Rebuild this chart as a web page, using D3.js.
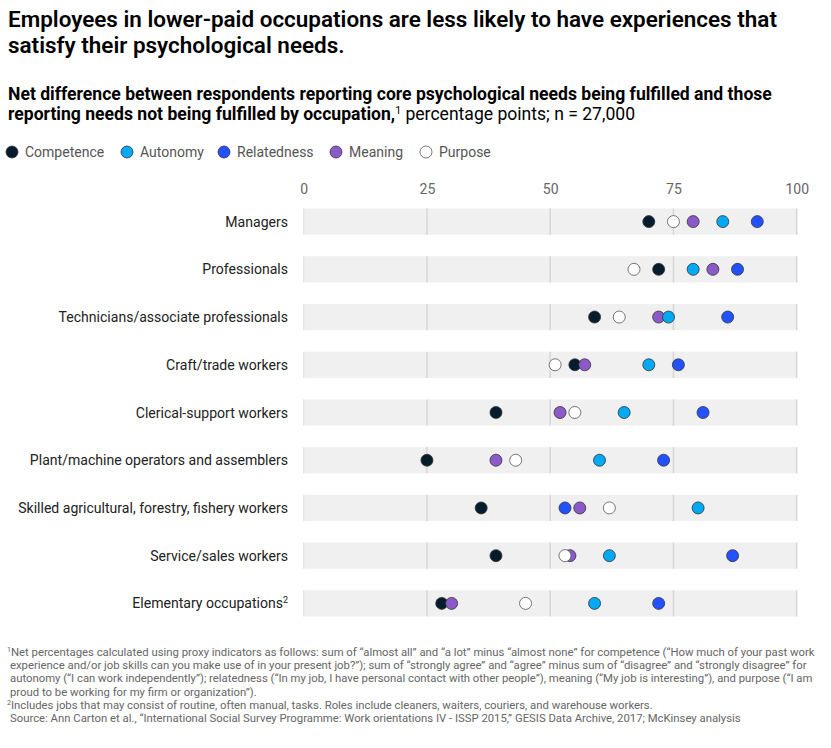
<!DOCTYPE html>
<html><head><meta charset="utf-8">
<script src="https://cdn.jsdelivr.net/npm/d3@7"></script>
<style>
html,body{margin:0;padding:0;background:#fff;}
svg{display:block;font-family:Roboto,"Noto Sans",Arial,sans-serif;}
</style></head>
<body>
<svg id="chart" width="831" height="748"></svg>
<script>
const categories = ["Managers","Professionals","Technicians/associate professionals","Craft/trade workers","Clerical-support workers","Plant/machine operators and assemblers","Skilled agricultural, forestry, fishery workers","Service/sales workers","Elementary occupations"];
const categorySup = ["","","","","","","","","2"];
const seriesNames = ["Competence","Autonomy","Relatedness","Meaning","Purpose"];
const competence  = [70,72,59,55,39,25,36,39,28];
const autonomy    = [85,79,74,70,65,60,80,62,59];
const relatedness = [92,88,86,76,81,73,53,87,72];
const meaning     = [79,83,72,57,52,39,56,54,30];
const purpose     = [75,67,64,51,55,43,62,53,45];
const tickValues  = [0,25,50,75,100];
const colors = {Competence:"#051c2c",Autonomy:"#00a9f4",Relatedness:"#2251ff",Meaning:"#8c5ac8",Purpose:"#ffffff"};
const drawOrder = ["Competence","Relatedness","Meaning","Autonomy","Purpose"];
const seriesData = {Competence:competence,Autonomy:autonomy,Relatedness:relatedness,Meaning:meaning,Purpose:purpose};

const svg = d3.select("#chart");

function fit(sel, target){
  const n = sel.node();
  const w = n.getComputedTextLength();
  const fs = parseFloat(sel.attr("font-size"));
  if (w>0) sel.attr("font-size", (fs*target/w).toFixed(2));
}

// Title
const title = ["Employees in lower-paid occupations are less likely to have experiences that","satisfy their psychological needs."];
const t1 = svg.append("text").attr("x",8).attr("y",27).attr("font-size",21).attr("font-weight",600).attr("fill","#000").text(title[0]);
fit(t1, 769);
const tfs = t1.attr("font-size");
svg.append("text").attr("x",8).attr("y",53).attr("font-size",tfs).attr("font-weight",600).attr("fill","#000").text(title[1]);

// Subtitle
const s1 = svg.append("text").attr("x",8).attr("y",100).attr("font-size",16).attr("font-weight",700).attr("fill","#000")
  .text("Net difference between respondents reporting core psychological needs being fulfilled and those");
fit(s1, 764);
const sfs = +s1.attr("font-size");
const s2 = svg.append("text").attr("x",8).attr("y",120).attr("font-size",sfs).attr("fill","#000");
s2.append("tspan").attr("font-weight",700).text("reporting needs not being fulfilled by occupation,");
s2.append("tspan").attr("font-size",sfs*0.6).attr("dy",-6).text("1");
s2.append("tspan").attr("dy",6).attr("font-weight",400).text(" percentage points; n = 27,000");

// Legend
const legendX = [12,127,224,336,426];
const lg = svg.append("g");
seriesNames.forEach((s,i)=>{
  lg.append("circle").attr("cx",legendX[i]).attr("cy",152).attr("r",6)
    .attr("fill",colors[s]).attr("stroke", s==="Purpose"?"#555":"#333").attr("stroke-width",0.8);
  lg.append("text").attr("x",legendX[i]+13).attr("y",157).attr("font-size",14).attr("fill","#555").text(s);
});

// Scales
const x = d3.scaleLinear().domain([0,100]).range([303.7,796.7]);
const y = d3.scaleBand().domain(categories).range([198,627]).paddingInner(0.45).paddingOuter(0.22);

// Axis tick labels
const axis = d3.axisTop(x).tickValues(tickValues).tickSize(0).tickPadding(0);
const ag = svg.append("g").attr("transform","translate(0,194)").call(axis);
ag.select(".domain").remove();
ag.selectAll("text").attr("font-size",14).attr("fill","#666").attr("font-family","Roboto,'Noto Sans',Arial,sans-serif").attr("dy",0);

// Bands
const rows = svg.append("g");
rows.selectAll("rect.band").data(categories).join("rect").attr("class","band")
  .attr("x",x(0)).attr("width",x(100)-x(0)).attr("y",d=>y(d)).attr("height",y.bandwidth()).attr("fill","#f0f0f0");
// Gridlines inside bands
categories.forEach(c=>{
  rows.selectAll(null).data(tickValues).join("line")
    .attr("x1",d=>x(d)).attr("x2",d=>x(d)).attr("y1",y(c)).attr("y2",y(c)+y.bandwidth())
    .attr("stroke",d=>d===0?"#e6e6e6":"#d6d6d6").attr("stroke-width",1.5);
});

// Row labels
const labels = svg.append("g");
categories.forEach((c,i)=>{
  const t = labels.append("text").attr("class","rowlab").attr("x",288).attr("y",y(c)+y.bandwidth()/2+5)
    .attr("text-anchor","end").attr("font-size",14).attr("fill","#222").text(c);
  if (categorySup[i]) t.append("tspan").attr("font-size",9).attr("dy",-5).text(categorySup[i]);
});
// Fit label font to reference width using the longest label
const longest = labels.selectAll("text").filter(d=>false);
const lnode = labels.selectAll("text").nodes()[6];
const lw = lnode.getComputedTextLength();
const lfs = 14*270/lw;
labels.selectAll("text").attr("font-size", Math.min(14.5, lfs).toFixed(2));

// Dots
const dots = svg.append("g");
drawOrder.forEach(s=>{
  dots.selectAll(null).data(categories.map((c,i)=>({c, v:seriesData[s][i]}))).join("circle")
    .attr("cx",d=>x(d.v)).attr("cy",d=>y(d.c)+y.bandwidth()/2).attr("r",6)
    .attr("fill",colors[s]).attr("stroke",s==="Purpose"?"#555":"#333").attr("stroke-width",0.8);
});

// Footnotes
const notes = [
 ["1","Net percentages calculated using proxy indicators as follows: sum of “almost all” and “a lot” minus “almost none” for competence (“How much of your past work"],
 ["","experience and/or job skills can you make use of in your present job?”); sum of “strongly agree” and “agree” minus sum of “disagree” and “strongly disagree” for"],
 ["","autonomy (“I can work independently”); relatedness (“In my job, I have personal contact with other people”), meaning (“My job is interesting”), and purpose (“I am"],
 ["","proud to be working for my firm or organization”)."],
 ["2","Includes jobs that may consist of routine, often manual, tasks. Roles include cleaners, waiters, couriers, and warehouse workers."],
 ["","Source: Ann Carton et al., “International Social Survey Programme: Work orientations IV - ISSP 2015,” GESIS Data Archive, 2017; McKinsey analysis"]
];
const fn = svg.append("g");
let ffs = 11.5;
notes.forEach((n,i)=>{
  const t = fn.append("text").attr("x",n[0]?7:10).attr("y",656+i*13.2).attr("font-size",ffs).attr("fill","#666");
  if (n[0]) t.append("tspan").attr("font-size",7).attr("dy",-4).text(n[0]);
  t.append("tspan").attr("dy",n[0]?4:0).text(n[1]);
});
// fit first line width
const f1 = fn.select("text").node();
const fw = f1.getComputedTextLength();
const nf = ffs*(815-7)/fw;
fn.selectAll("text").attr("font-size",nf.toFixed(2));
fn.selectAll("text").each(function(){ d3.select(this).selectAll("tspan").filter((d,i,arr)=>arr.length>1 && i===0).attr("font-size",(nf*0.62).toFixed(2)); });
</script>
</body></html>
